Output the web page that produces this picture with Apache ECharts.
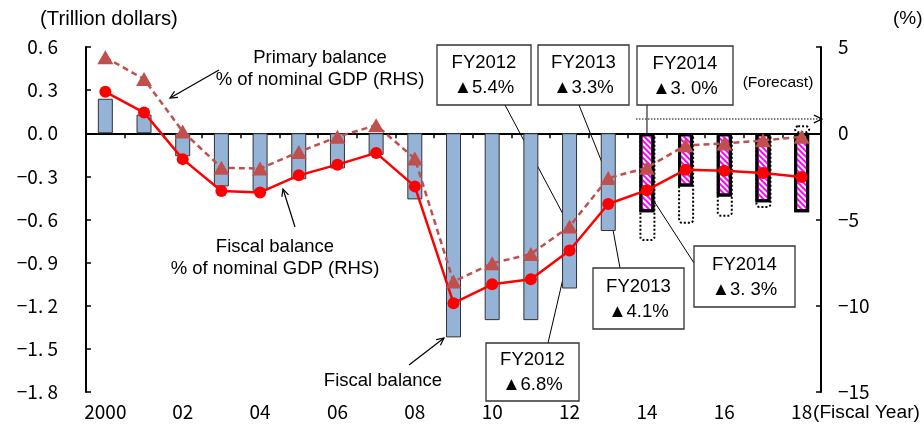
<!DOCTYPE html>
<html lang="en">
<head>
    <meta charset="UTF-8">
    <title>Fiscal balance</title>
    <script src="https://cdn.jsdelivr.net/npm/echarts@6/dist/echarts.min.js"></script>
</head>
<style>
    *{
        margin: 0;
        padding: 0;
    }
    html,body{
        width: 100%;
        height: 100%;
        overflow: hidden;
        background: #fff;
    }
    .container{
        width: 924px;
        height: 426px;
    }
</style>
<body>
<div class="container"></div>
<script>
    // fiscal years 2000 - 2018, forecast from FY2014
    let years=['2000','01','02','03','04','05','06','07','08','09','10','11','12','13','14','15','16','17','18'];
    let forecastFrom=14;
    // fiscal balance, trillion dollars (LHS)
    let fiscalBalance=[0.24,0.13,-0.16,-0.37,-0.40,-0.32,-0.245,-0.15,-0.46,-1.42,-1.30,-1.30,-1.08,-0.68,-0.55,-0.37,-0.44,-0.48,-0.55];
    // previous forecast (dotted outline)
    let previousForecast=[null,null,null,null,null,null,null,null,null,null,null,null,null,null,-0.75,-0.63,-0.58,-0.52,0.055];
    // % of nominal GDP (RHS)
    let fiscalPct=[2.4,1.2,-1.5,-3.35,-3.43,-2.44,-1.82,-1.14,-3.08,-9.85,-8.76,-8.47,-6.8,-4.1,-3.3,-2.11,-2.17,-2.31,-2.54];
    let primaryPct=[4.4,3.14,0.1,-2.0,-2.05,-1.09,-0.21,0.47,-1.47,-8.6,-7.54,-7.0,-5.4,-2.6,-2.0,-0.7,-0.6,-0.41,-0.21];

    let numFont='"Noto Sans CJK JP"';
    let txtFont='"Liberation Sans", Arial, sans-serif';

    let container=document.querySelector('.container');
    let mycharts=echarts.init(container);

    let barData=fiscalBalance.map((v,i)=>{
        if (i<forecastFrom){
            return v;
        }
        return {
            value:v,
            itemStyle:{
                color:'#fff',
                borderColor:'#000',
                borderWidth:3,
                decal:{
                    symbol:'rect',
                    color:'#FF00FF',
                    dashArrayX:[1,0],
                    dashArrayY:[2,2],
                    rotation:Math.PI/4
                }
            }
        };
    });

    let options={
        animation:false,
        grid:{left:86,right:103,top:47,bottom:34},
        xAxis:[
            {
                type:'category',
                data:years,
                axisLine:{onZero:true,onZeroAxisIndex:0,lineStyle:{color:'#000',width:2}},
                axisTick:{show:true,interval:0,length:5,lineStyle:{color:'#000',width:1.5}},
                axisLabel:{show:false}
            },
            {
                type:'category',
                data:years,
                position:'bottom',
                axisLine:{show:false,onZero:false},
                axisTick:{show:false},
                axisLabel:{
                    interval:1,
                    margin:10,
                    color:'#000',
                    fontSize:19,
                    fontFamily:numFont
                }
            }
        ],
        yAxis:[
            {
                type:'value',
                min:-1.8,
                max:0.6,
                interval:0.3,
                splitLine:{show:false},
                axisLine:{show:true,lineStyle:{color:'#000',width:2}},
                axisTick:{show:true,inside:true,length:5,lineStyle:{color:'#000',width:1.5}},
                axisLabel:{
                    margin:28,
                    color:'#000',
                    fontSize:19,
                    fontFamily:numFont,
                    formatter:v=>v.toFixed(1).replace('.','. ').replace('-','\u2212')
                }
            },
            {
                type:'value',
                min:-15,
                max:5,
                interval:5,
                position:'right',
                splitLine:{show:false},
                axisLine:{show:true,lineStyle:{color:'#000',width:2}},
                axisTick:{show:true,inside:true,length:5,lineStyle:{color:'#000',width:1.5}},
                axisLabel:{
                    margin:17,
                    color:'#000',
                    fontSize:19,
                    fontFamily:numFont,
                    formatter:v=>String(v).replace('-','\u2212')
                }
            }
        ],
        series:[
            {
                name:'previous forecast',
                type:'bar',
                data:previousForecast,
                barWidth:16,
                itemStyle:{
                    color:'rgba(0,0,0,0)',
                    borderColor:'#000',
                    borderWidth:2,
                    borderType:[2,2],
                    borderRadius:3
                }
            },
            {
                name:'Fiscal balance',
                type:'bar',
                data:barData,
                barWidth:15,
                barGap:'-100%',
                itemStyle:{
                    color:'#95B3D7',
                    borderColor:'#333',
                    borderWidth:1
                }
            },
            {
                name:'Primary balance % of nominal GDP',
                type:'line',
                yAxisIndex:1,
                data:primaryPct,
                symbol:'triangle',
                symbolSize:[16,14],
                itemStyle:{color:'#C0504D'},
                lineStyle:{color:'#C0504D',width:2.5,type:[6,4]}
            },
            {
                name:'Fiscal balance % of nominal GDP',
                type:'line',
                yAxisIndex:1,
                data:fiscalPct,
                symbol:'circle',
                symbolSize:12,
                itemStyle:{color:'#FF0000'},
                lineStyle:{color:'#FF0000',width:2.5}
            }
        ]
    };
    mycharts.setOption(options);

    // annotations
    function text(x,y,str,size,align){
        return {
            type:'text',
            x:x,
            y:y,
            style:{
                text:str,
                fill:'#000',
                font:(size||18.5)+'px '+txtFont,
                align:align||'center',
                verticalAlign:'middle'
            }
        };
    }
    function line(x1,y1,x2,y2,w,dash){
        return {
            type:'line',
            shape:{x1,y1,x2,y2},
            style:{stroke:'#000',lineWidth:w||1,lineDash:dash||null}
        };
    }
    function arrow(x1,y1,x2,y2,size,dash){
        let a=Math.atan2(y1-y2,x1-x2);
        let s=size||8;
        let d=0.45;
        return [
            line(x1,y1,x2,y2,1.2,dash),
            {
                type:'polyline',
                shape:{points:[
                    [x2+s*Math.cos(a+d),y2+s*Math.sin(a+d)],
                    [x2,y2],
                    [x2+s*Math.cos(a-d),y2+s*Math.sin(a-d)]
                ]},
                style:{stroke:'#000',lineWidth:1.2,fill:null}
            }
        ];
    }
    function box(x,y,w,h,title,val){
        return [
            {
                type:'rect',
                shape:{x,y,width:w,height:h},
                style:{fill:'#fff',stroke:'#333',lineWidth:1.3},
                z:10
            },
            Object.assign(text(x+w/2,y+h/2-12,title),{z:11}),
            Object.assign(text(x+w/2,y+h/2+13,val),{z:11})
        ];
    }
    function pt(series,i,v){
        return mycharts.convertToPixel({seriesIndex:series},[i,v]);
    }

    let p12=pt(2,12,primaryPct[12]);
    let p13=pt(2,13,primaryPct[13]);
    let p14=pt(2,14,primaryPct[14]);
    let f12=pt(3,12,fiscalPct[12]);
    let f13=pt(3,13,fiscalPct[13]);
    let f14=pt(3,14,fiscalPct[14]);

    let graphic=[
        text(40,19,'(Trillion dollars)',20.3,'left'),
        text(893,19,'(%)',19,'left'),
        text(813,413,'(Fiscal Year)',19.2,'left'),
        text(320,58,'Primary balance'),
        text(320,80,'% of nominal GDP (RHS)'),
        text(275,247,'Fiscal balance'),
        text(275,269,'% of nominal GDP (RHS)'),
        text(383,381,'Fiscal balance'),
        text(778,83,'(Forecast)',15.5),
        ...arrow(219,70,170,98),
        ...arrow(295,227,283,189),
        ...arrow(409,365,444,338),
        ...arrow(636,119,822,119,9,[1.5,1.5]),
        line(505,105,p12[0],p12[1]),
        line(579,105,p13[0],p13[1]),
        line(647,105,p14[0],p14[1]),
        line(620,268,f13[0],f13[1]),
        line(694,263,f14[0],f14[1]),
        line(548,343,f12[0],f12[1]),
        ...box(437,45,94,60,'FY2012','▲5.4%'),
        ...box(538,45,91,60,'FY2013','▲3.3%'),
        ...box(637,46,96,59,'FY2014','▲3. 0%'),
        ...box(593,268,91,61,'FY2013','▲4.1%'),
        ...box(694,246,101,61,'FY2014','▲3. 3%'),
        ...box(486,343,93,58,'FY2012','▲6.8%')
    ];
    mycharts.setOption({graphic:graphic});
</script>
</body>
</html>
